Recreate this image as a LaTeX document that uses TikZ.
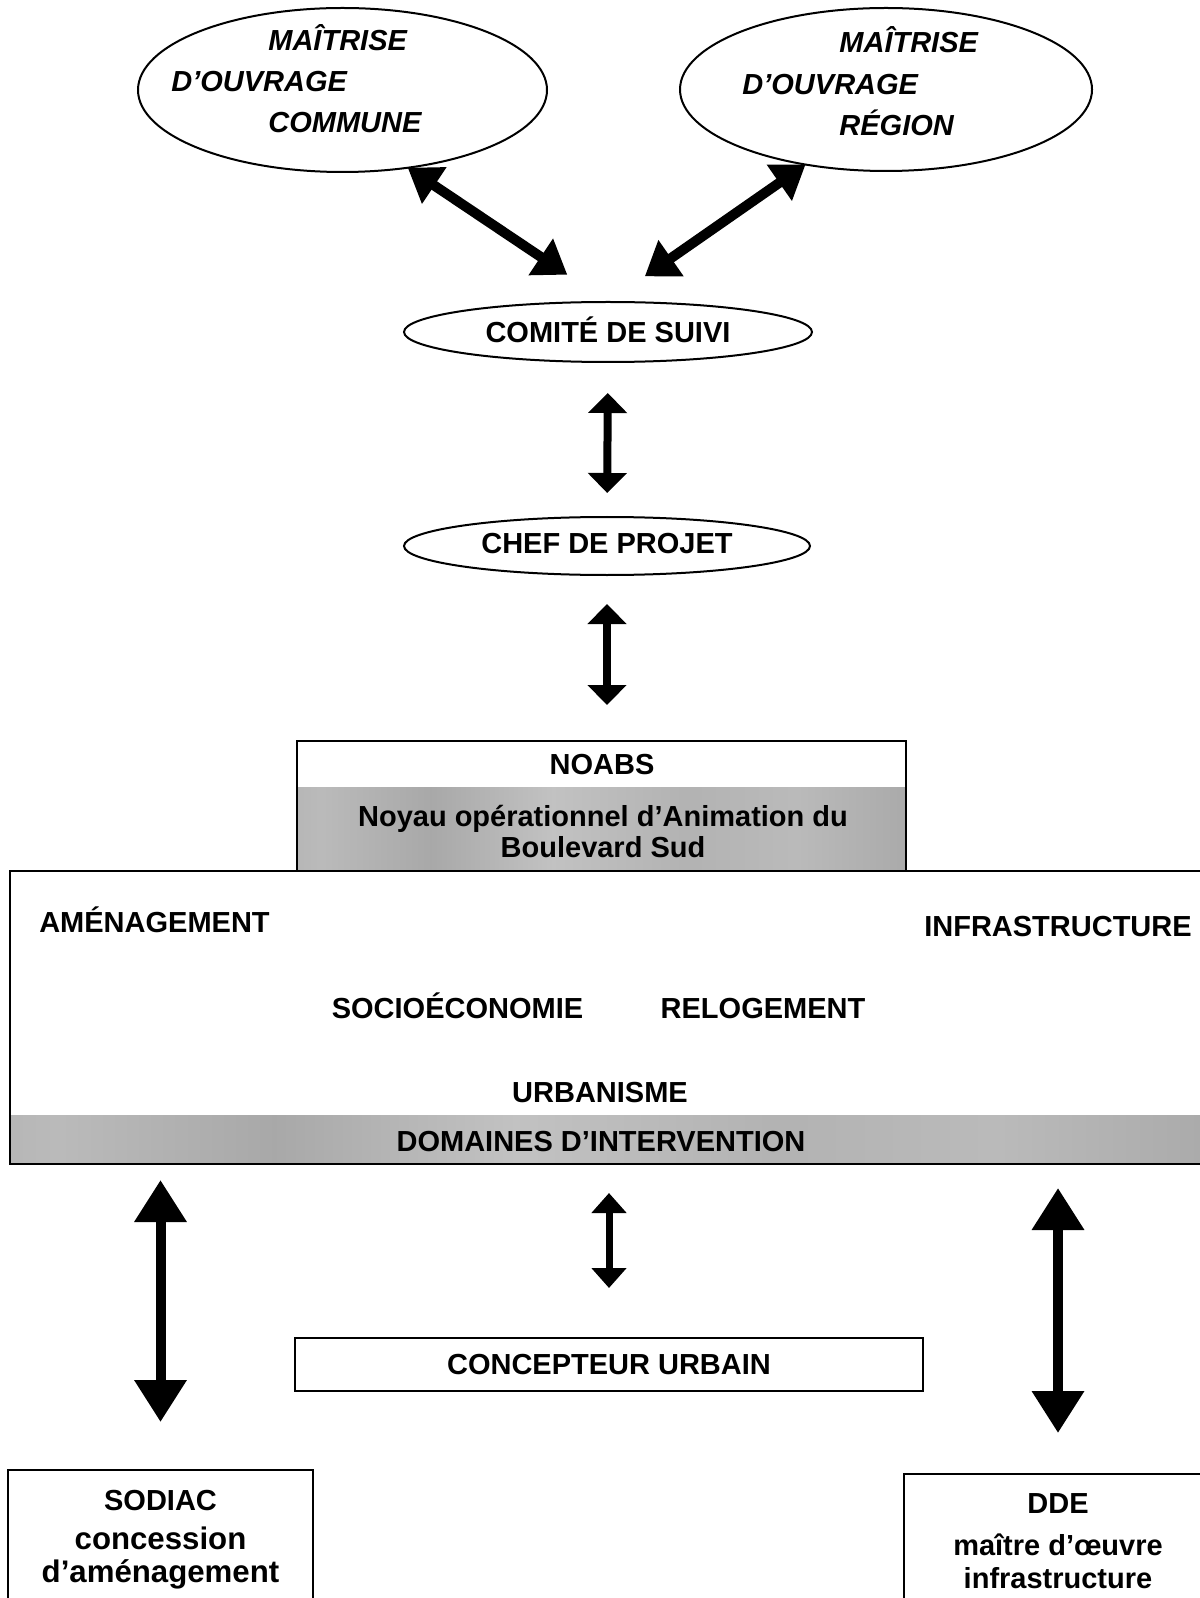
\documentclass[tikz,border=0pt]{standalone}
\usepackage{fontspec}
\setmainfont{Liberation Sans}
\usetikzlibrary{shapes.geometric,arrows.meta}
\pgfdeclarelayer{bg}
\pgfsetlayers{bg,main}
\colorlet{gA}{black!30}
\colorlet{gB}{black!24}
\colorlet{gC}{black!34}
\colorlet{gD}{black!27}
\pgfdeclarehorizontalshading{mottle}{100bp}{color(0bp)=(gA); color(8bp)=(gB); color(17bp)=(gC); color(27bp)=(gD); color(36bp)=(gC); color(46bp)=(gB); color(57bp)=(gA); color(66bp)=(gD); color(76bp)=(gC); color(86bp)=(gB); color(94bp)=(gC); color(100bp)=(gA)}
\begin{document}
\begin{tikzpicture}[x=0.5pt,y=-0.5pt,
  lbl/.style={font=\fontsize{14.5}{17}\selectfont\bfseries, inner sep=0pt, text height=10.4pt, text depth=0pt},
  ilbl/.style={lbl, font=\fontsize{14.5}{17}\selectfont\bfseries\itshape, anchor=west},
  blbl/.style={font=\fontsize{14.5}{17}\selectfont\bfseries, inner sep=0pt, anchor=base},
  bigblbl/.style={font=\fontsize{15.6}{19}\selectfont\bfseries, inner sep=0pt, anchor=base},
  oval/.style={draw, ellipse, line width=1pt, inner sep=0pt, outer sep=0pt},
  box/.style={draw, rectangle, line width=1pt, inner sep=0pt, outer sep=0pt},
  band/.style={shading=mottle},
  diagarrow/.style={line width=5pt, {Triangle[length=16pt,width=21pt]}-{Triangle[length=16pt,width=21pt]}},
  vertarrow/.style={line width=4pt, {Triangle[length=10pt,width=19pt]}-{Triangle[length=10pt,width=19pt]}},
  sidearrow/.style={line width=5pt, {Triangle[length=21pt,width=25pt]}-{Triangle[length=21pt,width=25pt]}},
  midarrow/.style={line width=3.5pt, {Triangle[length=10pt,width=17pt]}-{Triangle[length=10pt,width=17pt]}}
]
\useasboundingbox (0,0) rectangle (1199,1598);

% top ellipses
\node[oval, minimum width=204.5pt, minimum height=82pt] (moc) at (342.5,90) {};
\node[ilbl] (moc1) at (268,40) {MAÎTRISE};
\node[ilbl] (moc2) at (171,81) {D’OUVRAGE};
\node[ilbl] (moc3) at (268,122) {COMMUNE};

\node[oval, minimum width=206pt, minimum height=81.5pt] (mor) at (886,89.5) {};
\node[ilbl] (mor1) at (839,42) {MAÎTRISE};
\node[ilbl] (mor2) at (742,84) {D’OUVRAGE};
\node[ilbl] (mor3) at (839,125) {RÉGION};

% comite / chef
\node[oval, lbl, draw, minimum width=204pt, minimum height=30pt] (cs) at (608,332) {COMITÉ DE SUIVI};
\node[oval, lbl, draw, text depth=3pt, minimum width=203pt, minimum height=29pt] (cp) at (607,546) {CHEF DE PROJET};

% NOABS
\node[box, minimum width=304.5pt, minimum height=65pt] (nb) at (601.5,806) {};
\node[lbl] (nbt) at (602,764) {NOABS};
\node[blbl] (nbl1) at (603,826) {Noyau opérationnel d’Animation du};
\node[blbl] (nbl2) at (603,857) {Boulevard Sud};

% domaines
\node[box, line width=1.2pt, minimum width=601pt, minimum height=146.5pt] (dom) at (611,1017.5) {};
\node[lbl] (d1) at (154.5,922) {AMÉNAGEMENT};
\node[lbl] (d2) at (1058,926) {INFRASTRUCTURE};
\node[lbl] (d3) at (457.5,1008) {SOCIOÉCONOMIE};
\node[lbl] (d4) at (763,1008) {RELOGEMENT};
\node[lbl] (d5) at (600,1092) {URBANISME};
\node[lbl] (d6) at (601,1141) {DOMAINES D’INTERVENTION};

% bottom boxes
\node[box, lbl, minimum width=314pt, minimum height=26.5pt] (cu) at (609,1364.5) {CONCEPTEUR URBAIN};
\node[box, minimum width=152.5pt, minimum height=67.5pt] (sod) at (160.5,1537.5) {};
\node[blbl] (sod1) at (160.5,1510) {SODIAC};
\node[bigblbl] (sod2) at (160.5,1549) {concession};
\node[bigblbl] (sod3) at (160.5,1582) {d’aménagement};
\node[box, minimum width=154pt, minimum height=73pt] (dde) at (1058,1547) {};
\node[blbl] (dde1) at (1058,1513) {DDE};
\node[blbl] (dde2) at (1058,1555) {maître d’œuvre};
\node[blbl] (dde3) at (1058,1588) {infrastructure};

% grey bands
\begin{pgfonlayer}{bg}
\shade[band] (nb.south west) rectangle (nb.east |- 0,787);
\shade[band] (dom.south west) rectangle (dom.east |- 0,1115);
\end{pgfonlayer}

% connectors
\draw[diagarrow, shorten >=24.5pt] (moc.-50) -- (cs.north);
\draw[diagarrow, shorten >=22.4pt] (mor.223) -- (cs.north);
\draw[vertarrow, shorten <=15.5pt, shorten >=12pt] (cs.south) -- (cp.north);
\draw[vertarrow, shorten <=14.5pt, shorten >=18pt] (cp.south) -- (cp.south |- nb.north);
\draw[sidearrow, shorten <=8pt, shorten >=24pt] (sod.north |- dom.south) -- (sod.north);
\draw[midarrow, shorten <=14.5pt, shorten >=25pt] (cu.north |- dom.south) -- (cu.north);
\draw[sidearrow, shorten <=12pt, shorten >=20.5pt] (dde.north |- dom.south) -- (dde.north);
\end{tikzpicture}
\end{document}
